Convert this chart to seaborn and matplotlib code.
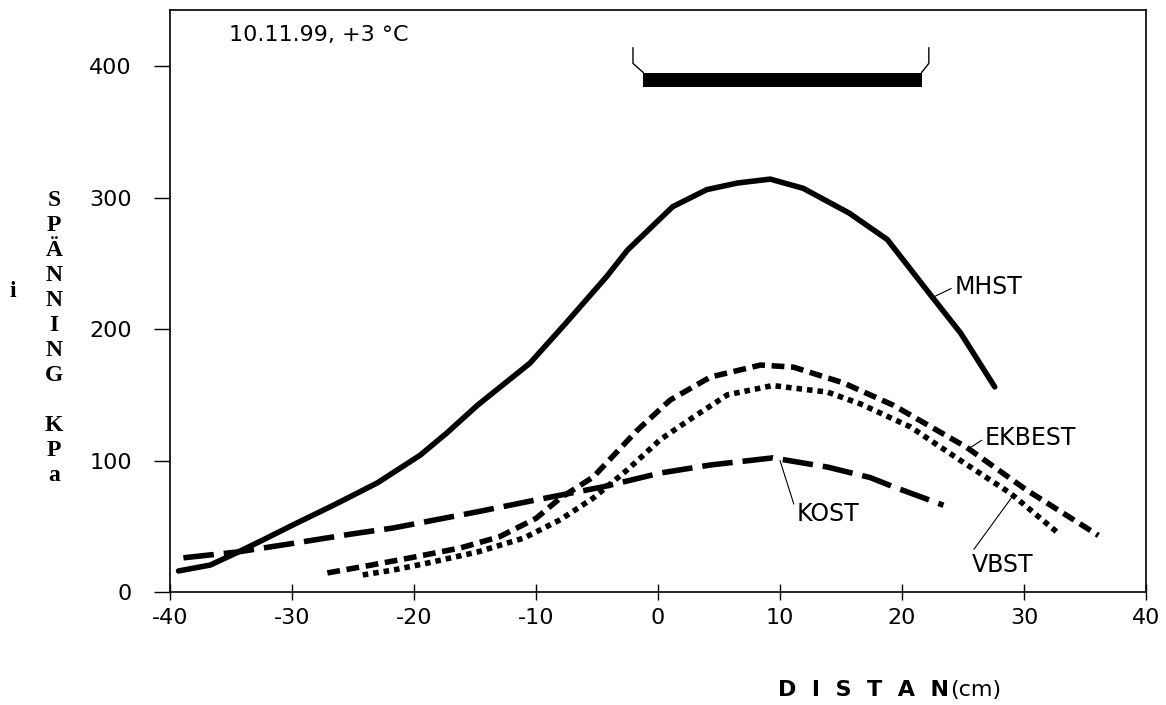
import matplotlib
matplotlib.use("Agg")
import matplotlib.pyplot as plt
import seaborn as sns

# distance (cm) and stress (kPa)
mhst_x = [-39.3, -36.7, -34.5, -32.4, -29.6, -26.6, -23.0, -19.5, -17.3, -14.8, -10.5,
          -7.5, -4.2, -2.5, 1.2, 4.0, 6.5, 9.2, 11.9, 15.7, 18.8, 22.5, 24.8, 27.6]
mhst_y = [16, 20.5, 30, 39.5, 52.5, 66, 83, 104, 121, 142, 174,
          205, 240, 260, 293, 306, 311, 314, 307, 288, 268, 224, 197, 156]

ekbest_x = [-27.1, -23.9, -20.3, -16.2, -13.0, -10.0, -8.0, -5.3, -1.7, 1.0, 4.3, 8.4,
            11.1, 15.2, 19.3, 25.3, 30.2, 36.1]
ekbest_y = [14.5, 19.8, 26, 33.5, 42, 56, 71.5, 87.5, 123, 146, 163.5, 172.6,
            171, 159, 142, 110, 77.6, 43]

vbst_x = [-24.2, -21.7, -18.9, -14.8, -11.0, -8.0, -5.3, -2.5, 0.2, 2.9, 5.7, 9.4,
          13.9, 16.6, 20.7, 24.8, 28.9, 32.7]
vbst_y = [13, 16.7, 22, 30.4, 41, 55, 71.5, 93, 116, 133, 150, 157,
          152, 143, 125.5, 100, 75, 45.6]

kost_x = [-38.9, -34.5, -29.9, -25.2, -21.7, -14.8, -10.0, -4.5, 0.2, 4.3, 9.4, 13.9,
          17.4, 19.3, 23.4]
kost_y = [26, 30.4, 37, 44, 48.7, 61, 70, 80, 90.5, 96.6, 102, 95,
          87, 80, 66]

x_ticks = [-40, -30, -20, -10, 0, 10, 20, 30, 40]
y_ticks = [0, 100, 200, 300, 400]

# load plate bracket at the top
plate_x = [-1.2, 21.6]
plate_y0, plate_y1 = 384, 395
bracket_left_x = [-2.05, -2.05, -1.2]
bracket_right_x = [22.2, 22.2, 21.6]
bracket_y = [414, 402, 395]

sns.set_style("white")
plt.rcParams["font.family"] = ["DejaVu Sans"]
plt.rcParams["axes.unicode_minus"] = False
for k in ["text.color", "axes.labelcolor", "xtick.color", "ytick.color", "axes.edgecolor"]:
    plt.rcParams[k] = "black"

fig = plt.figure(figsize=(11.66, 7.05), dpi=100)
ax = fig.add_axes([170 / 1166, 113 / 705, 976 / 1166, 582 / 705])

lw = 4.0
sns.lineplot(x=mhst_x, y=mhst_y, ax=ax, color="black", lw=lw, sort=False)
sns.lineplot(x=ekbest_x, y=ekbest_y, ax=ax, color="black", lw=lw, sort=False,
             linestyle=(0, (2.3, 1.2)))
sns.lineplot(x=vbst_x, y=vbst_y, ax=ax, color="black", lw=lw, sort=False,
             linestyle=(0, (1.0, 0.9)))
sns.lineplot(x=kost_x, y=kost_y, ax=ax, color="black", lw=lw, sort=False,
             linestyle=(0, (5.5, 1.8)))
for ln in ax.lines:
    ln.set_dash_capstyle("butt")

ax.fill_between(plate_x, plate_y0, plate_y1, color="black", lw=0)
ax.plot(bracket_left_x, bracket_y, color="black", lw=1)
ax.plot(bracket_right_x, bracket_y, color="black", lw=1)

ax.set_xlim(-40, 40)
ax.set_ylim(0, 442.6)
ax.set_xticks(x_ticks)
ax.set_yticks(y_ticks)
ax.tick_params(axis="x", direction="inout", length=11, width=1, labelsize=16, pad=6)
ax.tick_params(axis="y", direction="out", length=11.5, width=1, labelsize=16, pad=16)
ax.tick_params(left=True, bottom=True)
for s in ax.spines.values():
    s.set_color("black")
    s.set_linewidth(1.2)
ax.set_xlabel("")
ax.set_ylabel("")

ax.text(-35.2, 423.6, "10.11.99, +3 °C", fontsize=16, ha="left", va="center")

lbl = dict(fontsize=17, ha="left")
arr = dict(arrowstyle="-", lw=0.8, color="black", shrinkA=0, shrinkB=0)
ax.annotate("MHST", xy=(22.5, 224), xytext=(24.3, 232), va="center",
            arrowprops=dict(arr, relpos=(0, 0.5)), **lbl)
ax.annotate("EKBEST", xy=(25.3, 108), xytext=(26.8, 117), va="center",
            arrowprops=dict(arr, relpos=(0, 0.5)), **lbl)
ax.annotate("VBST", xy=(29.0, 72), xytext=(25.7, 30), va="top",
            arrowprops=dict(arr, relpos=(0, 1)), **lbl)
ax.annotate("KOST", xy=(10.0, 100), xytext=(11.4, 59), va="center",
            arrowprops=dict(arr, relpos=(0, 0.5)), **lbl)

# stacked y label and the odd "i"
serif = dict(family=["Liberation Serif", "DejaVu Serif"], fontweight="bold", fontsize=17)
fig.text(54 / 1166, 1 - 190 / 705, "S\nP\nÄ\nN\nN\nI\nN\nG\n\nK\nP\na",
         ha="center", va="top", linespacing=1.25, multialignment="center", **serif)
fig.text(13 / 1166, 1 - 292 / 705, "i", ha="center", va="center", **serif)

# x label: bold letters, then regular unit
fig.canvas.draw()
t1 = fig.text(778 / 1166, 1 - 690 / 705, "D  I  S  T  A  N", fontsize=16,
              fontweight="bold", ha="left", va="center")
fig.canvas.draw()
bb = t1.get_window_extent()
fig.text(bb.x1 / fig.bbox.width + 0.001, 1 - 690 / 705, "(cm)", fontsize=16,
         ha="left", va="center")

fig.savefig("out.png", dpi=100)
